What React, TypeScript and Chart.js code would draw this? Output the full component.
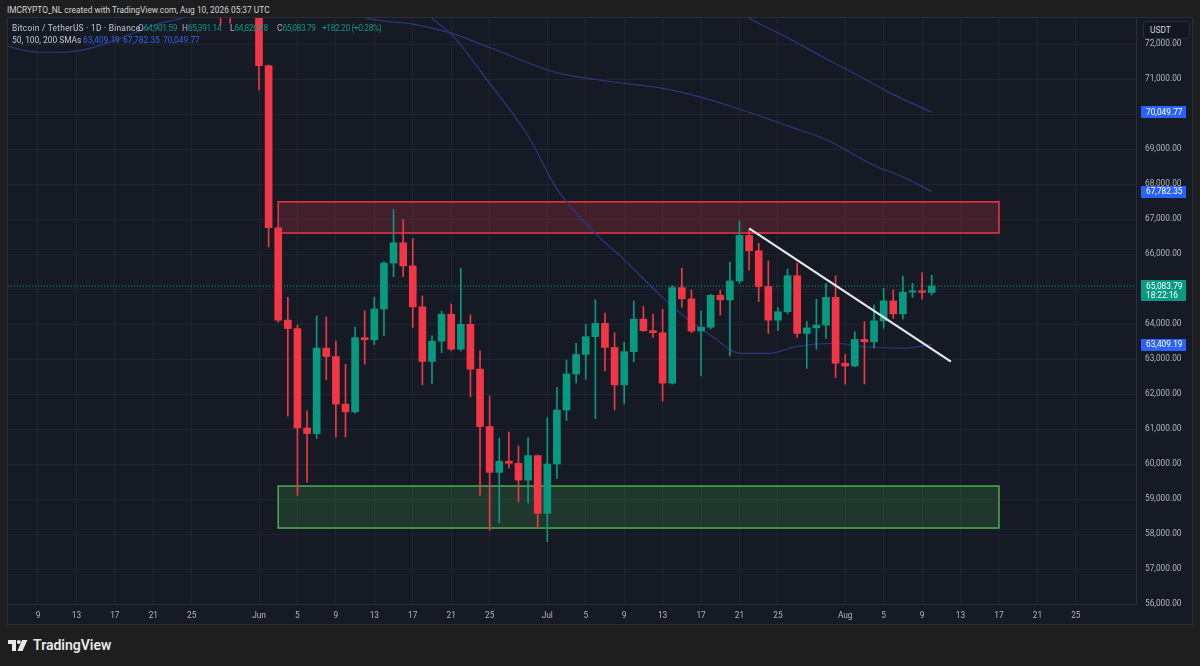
import React, { useEffect, useRef } from 'react';
import { Chart, registerables } from 'chart.js';

Chart.register(...registerables);

// ---------- data ----------
const dates = [
  '2026-05-28', '2026-05-29', '2026-05-30', '2026-05-31',
  '2026-06-01', '2026-06-02', '2026-06-03', '2026-06-04', '2026-06-05', '2026-06-06', '2026-06-07', '2026-06-08',
  '2026-06-09', '2026-06-10', '2026-06-11', '2026-06-12', '2026-06-13', '2026-06-14', '2026-06-15', '2026-06-16',
  '2026-06-17', '2026-06-18', '2026-06-19', '2026-06-20', '2026-06-21', '2026-06-22', '2026-06-23', '2026-06-24',
  '2026-06-25', '2026-06-26', '2026-06-27', '2026-06-28', '2026-06-29', '2026-06-30',
  '2026-07-01', '2026-07-02', '2026-07-03', '2026-07-04', '2026-07-05', '2026-07-06', '2026-07-07', '2026-07-08',
  '2026-07-09', '2026-07-10', '2026-07-11', '2026-07-12', '2026-07-13', '2026-07-14', '2026-07-15', '2026-07-16',
  '2026-07-17', '2026-07-18', '2026-07-19', '2026-07-20', '2026-07-21', '2026-07-22', '2026-07-23', '2026-07-24',
  '2026-07-25', '2026-07-26', '2026-07-27', '2026-07-28', '2026-07-29', '2026-07-30', '2026-07-31',
  '2026-08-01', '2026-08-02', '2026-08-03', '2026-08-04', '2026-08-05', '2026-08-06', '2026-08-07', '2026-08-08',
  '2026-08-09', '2026-08-10',
];
const opens = [
  74600, 74100, 73700, 74000,
  73700, 71380, 66750, 64110, 63870, 61030, 60870, 63310,
  63070, 61710, 61490, 63610, 63550, 64430, 65740, 66320,
  65660, 64490, 62930, 63510, 64280, 63280, 63990, 62710,
  61070, 59760, 60080, 60020, 59540, 60240,
  58590, 60000, 61540, 62570, 63130, 63640, 64020, 63330,
  62260, 63210, 64140, 63810, 63750, 62310, 65040, 64720,
  63800, 63910, 64820, 64690, 65230, 66530, 66090, 65070,
  64110, 64350, 65380, 63730, 63890, 63970, 64760,
  62880, 62800, 63560, 63490, 64090, 64660, 64290, 64910,
  64950, 64901.59,
];
const highs = [
  75100, 74400, 74300, 74500,
  73900, 71400, 66780, 64760, 63970, 61520, 64230, 64200,
  63510, 62850, 63910, 64380, 64770, 65780, 67270, 66980,
  66440, 64800, 63660, 64370, 64570, 65590, 64260, 63230,
  61940, 60740, 60910, 60520, 60760, 60260,
  61320, 62180, 62970, 63450, 63990, 64690, 64310, 63750,
  63480, 64660, 64500, 64280, 64420, 65100, 65590, 64970,
  64370, 64850, 64970, 65770, 66940, 66690, 66310, 65800,
  64470, 65570, 65730, 64070, 64710, 65160, 65380,
  63130, 63780, 64070, 64540, 65020, 64970, 65370, 65160,
  65470, 65391.14,
];
const lows = [
  72540, 72600, 73000, 73200,
  70690, 66200, 64050, 61370, 59100, 59480, 60730, 62410,
  60770, 60770, 61450, 62850, 63410, 63670, 65350, 65350,
  63900, 62260, 62300, 63180, 63240, 63230, 61920, 59100,
  58110, 58320, 59880, 58910, 58880, 58190,
  57780, 59590, 61240, 62320, 62420, 61300, 62660, 61540,
  61710, 62920, 63790, 63620, 61800, 62280, 64480, 63750,
  62520, 63860, 64260, 63090, 65160, 65540, 64640, 63730,
  63810, 64290, 63620, 62730, 63280, 63590, 62470,
  62280, 62780, 62290, 63310, 63880, 64160, 64140, 64760,
  64710, 64826.78,
];
const closes = [
  74100, 73700, 74000, 73700,
  71380, 66750, 64110, 63870, 61030, 60870, 63310, 63070,
  61710, 61490, 63610, 63550, 64430, 65740, 66320, 65660,
  64490, 62930, 63510, 64280, 63280, 63990, 62710, 61070,
  59760, 60080, 60020, 59540, 60240, 58590,
  60000, 61540, 62570, 63130, 63640, 64020, 63330, 62260,
  63210, 64140, 63810, 63750, 62310, 65040, 64720, 63800,
  63910, 64820, 64690, 65230, 66530, 66090, 65070, 64110,
  64350, 65380, 63730, 63890, 63970, 64760, 62880,
  62800, 63560, 63490, 64090, 64660, 64290, 64910, 64950,
  64901.59, 65083.79,
];

const sma50Dates = ['2026-06-14', '2026-06-19', '2026-06-21', '2026-06-25', '2026-06-29', '2026-07-02', '2026-07-06', '2026-07-09', '2026-07-13', '2026-07-16', '2026-07-18', '2026-07-21', '2026-07-24', '2026-07-27', '2026-07-31', '2026-08-03', '2026-08-07', '2026-08-10'];
const sma50Values = [74300, 72740, 72280, 70880, 69370, 67860, 66590, 65840, 64760, 64050, 63680, 63170, 63160, 63360, 63450, 63350, 63310, 63409.19];
const sma100Dates = ['2026-06-07', '2026-06-12', '2026-06-17', '2026-06-21', '2026-06-25', '2026-07-02', '2026-07-07', '2026-07-14', '2026-07-20', '2026-07-26', '2026-07-30', '2026-08-04', '2026-08-07', '2026-08-10'];
const sma100Values = [73500, 72760, 72570, 72310, 71900, 71180, 70950, 70680, 70230, 69660, 69270, 68530, 68200, 67782.35];
const sma200Dates = ['2026-05-05', '2026-05-09', '2026-05-12', '2026-05-15', '2026-05-19', '2026-05-22', '2026-05-24', '2026-05-28', '2026-07-17', '2026-07-22', '2026-07-26', '2026-07-30', '2026-08-02', '2026-08-06', '2026-08-10'];
const sma200Values = [72000, 71765, 71770, 71920, 72320, 72620, 72740, 73300, 73600, 72734, 72180, 71580, 71150, 70560, 70049.77];

const xTickDates = ['2026-05-09', '2026-05-13', '2026-05-17', '2026-05-21', '2026-05-25', '2026-06-01', '2026-06-05', '2026-06-09', '2026-06-13', '2026-06-17', '2026-06-21', '2026-06-25', '2026-07-01', '2026-07-05', '2026-07-09', '2026-07-13', '2026-07-17', '2026-07-21', '2026-07-25', '2026-08-01', '2026-08-05', '2026-08-09', '2026-08-13', '2026-08-17', '2026-08-21', '2026-08-25'];
const xTickLabels = ['9', '13', '17', '21', '25', 'Jun', '5', '9', '13', '17', '21', '25', 'Jul', '5', '9', '13', '17', '21', '25', 'Aug', '5', '9', '13', '17', '21', '25'];
const yTicks = [56000, 57000, 58000, 59000, 60000, 61000, 62000, 63000, 64000, 65000, 66000, 67000, 68000, 69000, 70000, 71000, 72000];

const resistanceZone = { from: '2026-06-03', to: '2026-08-17', low: 66600, high: 67490 };
const supportZone = { from: '2026-06-03', to: '2026-08-17', low: 58170, high: 59370 };
const trendDates = ['2026-07-22', '2026-08-12'];
const trendValues = [66734, 62923];

const viewStartDay = -26.12;
const viewEndDay = 91.26;
const priceMin = 56000;
const priceMax = 72743;
const countdown = '18:22:16';

// ---------- helpers ----------
const BASE = Date.UTC(2026, 5, 1);
const dayOf = (s: string) => (Date.parse(s + 'T00:00:00Z') - BASE) / 86400000;
const fmt = (v: number) => v.toLocaleString('en-US', { minimumFractionDigits: 2, maximumFractionDigits: 2 });

const UP = '#089981';
const DOWN = '#f23645';
const BLUE = '#2962ff';
const FONT = 'Roboto';

const last = closes.length - 1;
const lastClose = closes[last];
const prevClose = closes[last - 1];
const change = lastClose - prevClose;
const changePct = (change / prevClose) * 100;

const candleColors = closes.map((c, i) => (c >= opens[i] ? UP : DOWN));

const badges = [
  { value: sma200Values[sma200Values.length - 1], color: BLUE, sub: '' },
  { value: sma100Values[sma100Values.length - 1], color: BLUE, sub: '' },
  { value: lastClose, color: UP, sub: countdown },
  { value: sma50Values[sma50Values.length - 1], color: BLUE, sub: '' },
];

const zonesPlugin = {
  id: 'zones',
  beforeDatasetsDraw(chart: any) {
    const { ctx, chartArea, scales } = chart;
    const xs = scales.x;
    const ys = scales.y;
    ctx.save();
    ctx.beginPath();
    ctx.rect(chartArea.left, chartArea.top, chartArea.right - chartArea.left, chartArea.bottom - chartArea.top);
    ctx.clip();
    const zones = [
      { z: resistanceZone, fill: 'rgba(242,54,69,0.2)', stroke: '#f23645' },
      { z: supportZone, fill: 'rgba(76,175,80,0.2)', stroke: '#4caf50' },
    ];
    for (const { z, fill, stroke } of zones) {
      const x1 = xs.getPixelForValue(dayOf(z.from));
      const x2 = xs.getPixelForValue(dayOf(z.to));
      const y1 = ys.getPixelForValue(z.high);
      const y2 = ys.getPixelForValue(z.low);
      ctx.fillStyle = fill;
      ctx.fillRect(x1, y1, x2 - x1, y2 - y1);
      ctx.strokeStyle = stroke;
      ctx.lineWidth = 1.5;
      ctx.strokeRect(x1, y1, x2 - x1, y2 - y1);
    }
    ctx.restore();
  },
};

const badgePlugin = {
  id: 'badges',
  afterDraw(chart: any) {
    const { ctx, scales } = chart;
    const ys = scales.y;
    const x0 = ys.left + 5;
    ctx.save();
    ctx.font = `8.3px ${FONT}`;
    ctx.textBaseline = 'middle';
    ctx.textAlign = 'left';
    for (const b of badges) {
      const py = ys.getPixelForValue(b.value);
      const h = b.sub ? 21 : 12;
      ctx.fillStyle = b.color;
      ctx.fillRect(x0, Math.round(py - 6), 45, h);
      ctx.fillStyle = '#ffffff';
      ctx.fillText(fmt(b.value), x0 + 5, py + 0.5);
      if (b.sub) ctx.fillText(b.sub, x0 + 5, py + 9.5);
    }
    ctx.restore();
  },
};

const smaLine = (ds: string[], vs: number[], label: string) => ({
  type: 'line' as const,
  label,
  data: ds.map((d, i) => ({ x: dayOf(d), y: vs[i] })),
  borderColor: '#2b3a7c',
  borderWidth: 1.2,
  pointRadius: 0,
  cubicInterpolationMode: 'monotone' as const,
  order: 10,
});

export default function App() {
  const ref = useRef<HTMLCanvasElement>(null);

  useEffect(() => {
    if (!ref.current) return;
    const xTickDays = xTickDates.map(dayOf);
    const chart = new Chart(ref.current, {
      type: 'line',
      data: {
        datasets: [
          smaLine(sma50Dates, sma50Values, 'SMA 50'),
          smaLine(sma100Dates, sma100Values, 'SMA 100'),
          smaLine(sma200Dates, sma200Values, 'SMA 200'),
          {
            type: 'line',
            label: 'last',
            data: [{ x: viewStartDay, y: lastClose }, { x: viewEndDay, y: lastClose }],
            borderColor: UP,
            borderWidth: 1,
            borderDash: [1, 2],
            pointRadius: 0,
            order: 9,
          },
          {
            type: 'bar',
            label: 'wicks',
            data: dates.map((d, i) => ({ x: dayOf(d), y: [lows[i], highs[i]] })),
            backgroundColor: candleColors,
            barThickness: 1,
            grouped: false,
            minBarLength: 1,
            clip: 0,
            order: 5,
          },
          {
            type: 'bar',
            label: 'bodies',
            data: dates.map((d, i) => ({ x: dayOf(d), y: [opens[i], closes[i]] })),
            backgroundColor: candleColors,
            barThickness: 7,
            grouped: false,
            minBarLength: 1,
            clip: 0,
            order: 4,
          },
          {
            type: 'line',
            label: 'trend',
            data: trendDates.map((d, i) => ({ x: dayOf(d), y: trendValues[i] })),
            borderColor: '#e8e8e8',
            borderWidth: 2.2,
            pointRadius: 0,
            order: 1,
          },
        ] as any,
      },
      options: {
        animation: false,
        responsive: false,
        maintainAspectRatio: false,
        layout: { padding: 0 },
        plugins: { legend: { display: false }, tooltip: { enabled: false } },
        events: [],
        scales: {
          x: {
            type: 'linear',
            min: viewStartDay,
            max: viewEndDay,
            offset: false,
            grid: { color: '#1f2431', drawTicks: false, offset: false },
            border: { color: '#2a2e39' },
            afterBuildTicks: (s: any) => {
              s.ticks = xTickDays.map((v) => ({ value: v }));
            },
            afterFit: (s: any) => {
              s.height = 20;
              s.paddingLeft = 0;
              s.paddingRight = 0;
            },
            ticks: {
              autoSkip: false,
              maxRotation: 0,
              padding: 7,
              color: '#b2b5be',
              font: { family: FONT, size: 8.3 },
              callback: (v: any) => {
                const i = xTickDays.indexOf(Number(v));
                return i >= 0 ? xTickLabels[i] : '';
              },
            },
          },
          y: {
            type: 'linear',
            position: 'right',
            min: priceMin,
            max: priceMax,
            grid: { color: '#1f2431', drawTicks: false },
            border: { color: '#2a2e39' },
            afterBuildTicks: (s: any) => {
              s.ticks = yTicks.map((v) => ({ value: v }));
            },
            afterFit: (s: any) => {
              s.width = 56;
              s.paddingTop = 0;
              s.paddingBottom = 0;
            },
            ticks: {
              autoSkip: false,
              padding: 9,
              color: '#b2b5be',
              font: { family: FONT, size: 8.3 },
              callback: (v: any) => fmt(Number(v)),
            },
          },
        },
      } as any,
      plugins: [zonesPlugin, badgePlugin],
    });
    return () => chart.destroy();
  }, []);

  const ib = (w: number) => ({ display: 'inline-block', width: w });
  const label = { color: '#b2b5be' };
  const val = { color: UP, letterSpacing: '-0.4px' };
  const blue = { color: '#3566e6', display: 'inline-block', width: 40 };

  return (
    <div style={{ position: 'absolute', left: 0, top: 0, width: 1200, height: 666, background: '#1e1e1e', overflow: 'hidden', fontFamily: FONT }}>
      <div style={{ position: 'absolute', left: 7, top: 4, fontSize: 8.4, lineHeight: '12px', color: '#d1d4dc', whiteSpace: 'nowrap' }}>
        IMCRYPTO_NL created with TradingView.com, Aug 10, 2026 05:37 UTC
      </div>
      <div style={{ position: 'absolute', left: 7, top: 17, width: 1186, height: 608, border: '1px solid #2a2e39', boxSizing: 'border-box', background: '#161a25' }}>
        <canvas ref={ref} width={1184} height={606} style={{ display: 'block', width: 1184, height: 606 }} />
      </div>
      <div style={{ position: 'absolute', left: 12, top: 23, fontSize: 8.4, lineHeight: '11px', whiteSpace: 'nowrap' }}>
        <span style={{ ...ib(126), color: '#c5c8cf', letterSpacing: '0.25px' }}>Bitcoin / TetherUS · 1D · Binance</span>
        <span style={ib(44)}><span style={label}>O</span><span style={val}>{fmt(opens[last])}</span></span>
        <span style={ib(48)}><span style={label}>H</span><span style={val}>{fmt(highs[last])}</span></span>
        <span style={ib(47)}><span style={label}>L</span><span style={val}>{fmt(lows[last])}</span></span>
        <span style={ib(45)}><span style={label}>C</span><span style={val}>{fmt(lastClose)}</span></span>
        <span style={val}>{(change >= 0 ? '+' : '') + fmt(change)} ({(changePct >= 0 ? '+' : '') + changePct.toFixed(2)}%)</span>
      </div>
      <div style={{ position: 'absolute', left: 12, top: 35, fontSize: 8.4, lineHeight: '11px', whiteSpace: 'nowrap' }}>
        <span style={{ ...ib(71), color: '#c5c8cf' }}>50, 100, 200 SMAs</span>
        <span style={blue}>{fmt(sma50Values[sma50Values.length - 1])}</span>
        <span style={blue}>{fmt(sma100Values[sma100Values.length - 1])}</span>
        <span style={blue}>{fmt(sma200Values[sma200Values.length - 1])}</span>
      </div>
      <div style={{ position: 'absolute', left: 1143, top: 21, width: 47, height: 18, border: '1px solid #2a2e39', borderRadius: 3, boxSizing: 'border-box', background: '#131722', color: '#d1d4dc', fontSize: 8.4, lineHeight: '16px', paddingLeft: 6 }}>
        USDT
      </div>
      <svg style={{ position: 'absolute', left: 8, top: 640 }} width={20} height={12} viewBox="0 0 20 12">
        <path d="M0 0 H8 V11 H4 V4 H0 Z" fill="#e8e8e8" />
        <circle cx={10.8} cy={2} r={2} fill="#e8e8e8" />
        <path d="M14 0 H19.5 L14.5 11 H9.5 Z" fill="#e8e8e8" />
      </svg>
      <div style={{ position: 'absolute', left: 33, top: 637, fontSize: 14, fontWeight: 600, lineHeight: '16px', color: '#e8e8e8', whiteSpace: 'nowrap' }}>
        TradingView
      </div>
    </div>
  );
}
